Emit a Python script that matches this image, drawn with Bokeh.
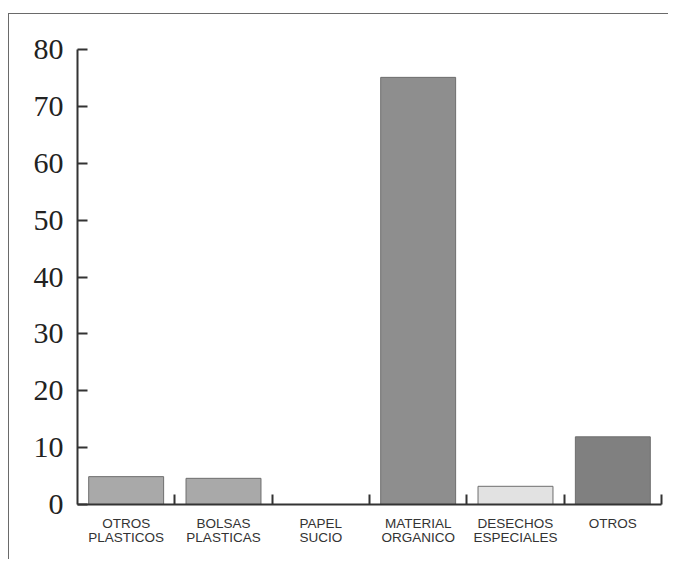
from bokeh.plotting import figure
from bokeh.models import Range1d, FixedTicker, ColumnDataSource
from bokeh.embed import file_html
from bokeh.resources import INLINE

categories = ["OTROS\nPLASTICOS", "BOLSAS\nPLASTICAS", "PAPEL\nSUCIO",
              "MATERIAL\nORGANICO", "DESECHOS\nESPECIALES", "OTROS"]
values = [4.9, 4.6, 0.0, 75.1, 3.2, 11.9]
colors = ["#a9a9a9", "#a9a9a9", "#a9a9a9", "#8e8e8e", "#e2e2e2", "#808080"]
y_ticks = [0, 10, 20, 30, 40, 50, 60, 70, 80]

n = len(categories)
xs = [i + 0.5 for i in range(n)]
src = ColumnDataSource(dict(x=xs, top=values, color=colors))

p = figure(width=660, height=546, output_backend="svg", toolbar_location=None,
           x_range=Range1d(0, n), y_range=Range1d(0, 80),
           min_border_left=68, min_border_right=8, min_border_top=35, min_border_bottom=56)
p.styles = {"margin-top": "13px", "margin-left": "8px",
            "border-top": "1.5px solid #6a6a6a",
            "border-left": "1.5px solid #6a6a6a"}

p.vbar(x="x", top="top", width=0.77, bottom=0, source=src,
       fill_color="color", line_color="#6e6e6e", line_width=1)

p.grid.visible = False
p.outline_line_color = None
p.background_fill_color = "white"
p.border_fill_color = "white"

# y axis
ya = p.yaxis[0]
ya.ticker = FixedTicker(ticks=y_ticks)
ya.major_tick_in = 10
ya.major_tick_out = 0
ya.minor_tick_line_color = None
ya.axis_line_color = "#333333"
ya.axis_line_width = 2
ya.major_tick_line_color = "#333333"
ya.major_tick_line_width = 2
ya.major_label_text_font = "Liberation Serif"
ya.major_label_text_font_size = "30px"
ya.major_label_text_color = "#222222"
ya.major_label_standoff = 14

# x axis: labels at category centres, ticks at boundaries
xa = p.xaxis[0]
xa.ticker = FixedTicker(ticks=xs, minor_ticks=list(range(1, n + 1)))
xa.major_label_overrides = {x: c for x, c in zip(xs, categories)}
xa.major_tick_line_color = None
xa.minor_tick_in = 10
xa.minor_tick_out = 0
xa.minor_tick_line_color = "#333333"
xa.minor_tick_line_width = 2
xa.axis_line_color = "#333333"
xa.axis_line_width = 2
xa.major_label_text_font = "Liberation Sans"
xa.major_label_text_font_size = "13.5px"
xa.major_label_text_color = "#333333"
xa.major_label_standoff = 5
xa.major_label_text_line_height = 0.95

open("out.html", "w").write(file_html(p, INLINE))
